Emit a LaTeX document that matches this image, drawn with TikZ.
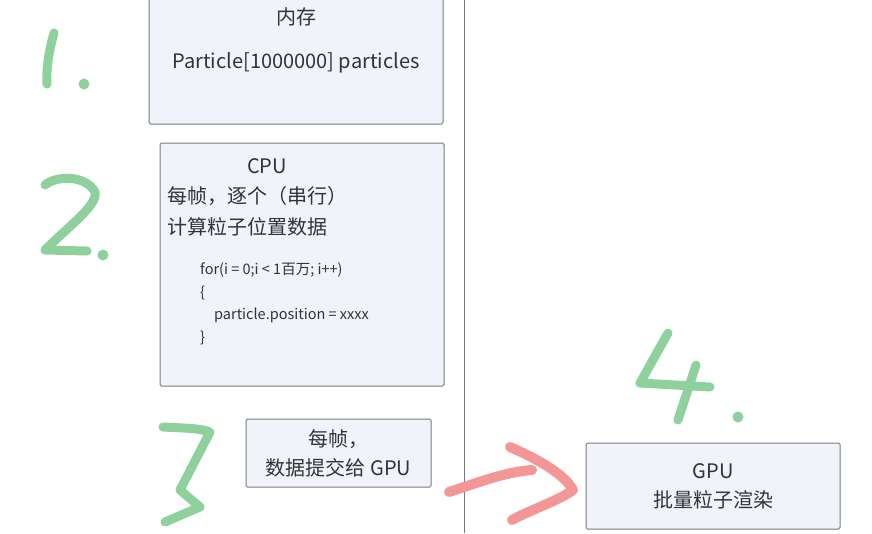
\documentclass[tikz,border=0pt]{standalone}
\usepackage{fontspec}
\setmainfont{Noto Sans CJK SC}
\usetikzlibrary{positioning}
\definecolor{boxfill}{HTML}{F1F3FB}
\definecolor{boxline}{HTML}{7A7A7A}
\definecolor{txt}{HTML}{333333}
\definecolor{hand}{HTML}{8ED19D}
\definecolor{pen}{HTML}{F29696}
\begin{document}
\begin{tikzpicture}[x=1pt,y=-1pt,
  bx/.style={draw=boxline,line width=1pt,fill=boxfill,rounded corners=1.5pt,inner sep=0pt},
  lb/.style={text=txt,font=\fontsize{20}{29}\selectfont,inner sep=0pt,align=center},
  code/.style={text=txt,font=\fontsize{14.5}{17}\selectfont,inner sep=0pt,anchor=west},
  hw/.style={draw=hand,line width=9pt,line cap=round,line join=round}]
  \useasboundingbox (0,0) rectangle (872,533);
  % boxes
  \node[bx,minimum width=294,minimum height=130] (mem) at (296,59) {};
  \node[bx,minimum width=284,minimum height=243] (cpu) at (302,264.5) {};
  \node[bx,minimum width=185,minimum height=68] (send) at (338.5,453) {};
  \node[bx,minimum width=254,minimum height=86] (gpu) at (713,486) {};
  \draw[boxline,line width=1pt] (464,0) -- (464,533);
  % texts
  \node[lb] (memt) at (296,17) {内存};
  \node[lb] (memp) at (296,63) {Particle[1000000] particles};
  \node[lb] (cput) at (267,166) {CPU};
  \node[lb,anchor=west] (cpua) at (167,196) {每帧，逐个（串行）};
  \node[lb,anchor=west] (cpub) at (167,227) {计算粒子位置数据};
  \node[code] (c1) at (200,270) {for(i = 0;i < 1百万; i++)};
  \node[code] (c2) at (200,293) {\{};
  \node[code] (c3) at (214,315) {particle.position = xxxx};
  \node[code] (c4) at (200,338) {\}};
  \node[lb] (sendt) at (send) {每帧，\\数据提交给 GPU};
  \node[lb] (gput) at (gpu) {GPU\\批量粒子渲染};
  % hand-written marks
  \draw[hw] (54,33) .. controls (49,50) and (46,70) .. (47,84);
  \fill[hand] (84,84) circle (5.5);
  \draw[hw] (45,185) .. controls (55,176) and (85,174) .. (95,192)
    .. controls (98,205) and (70,225) .. (45,250) -- (87,251);
  \fill[hand] (103,255) circle (5.5);
  \draw[hw] (163,427) .. controls (180,428) and (200,428) .. (210,432)
    -- (180,490) -- (200,507) -- (165,522);
  \draw[hw] (668,333) -- (640,383) -- (710,387);
  \draw[hw] (696,365) -- (678,420);
  \fill[hand] (738,417) circle (5.5);
  % red arrow
  \draw[pen,line width=10pt,line cap=round,line join=round]
    (449,492) .. controls (480,482) and (505,472) .. (532,470);
  \draw[pen,line width=10pt,line cap=round,line join=round]
    (510,447) .. controls (540,460) and (565,475) .. (573,490)
    .. controls (560,500) and (530,510) .. (512,520);
\end{tikzpicture}
\end{document}
